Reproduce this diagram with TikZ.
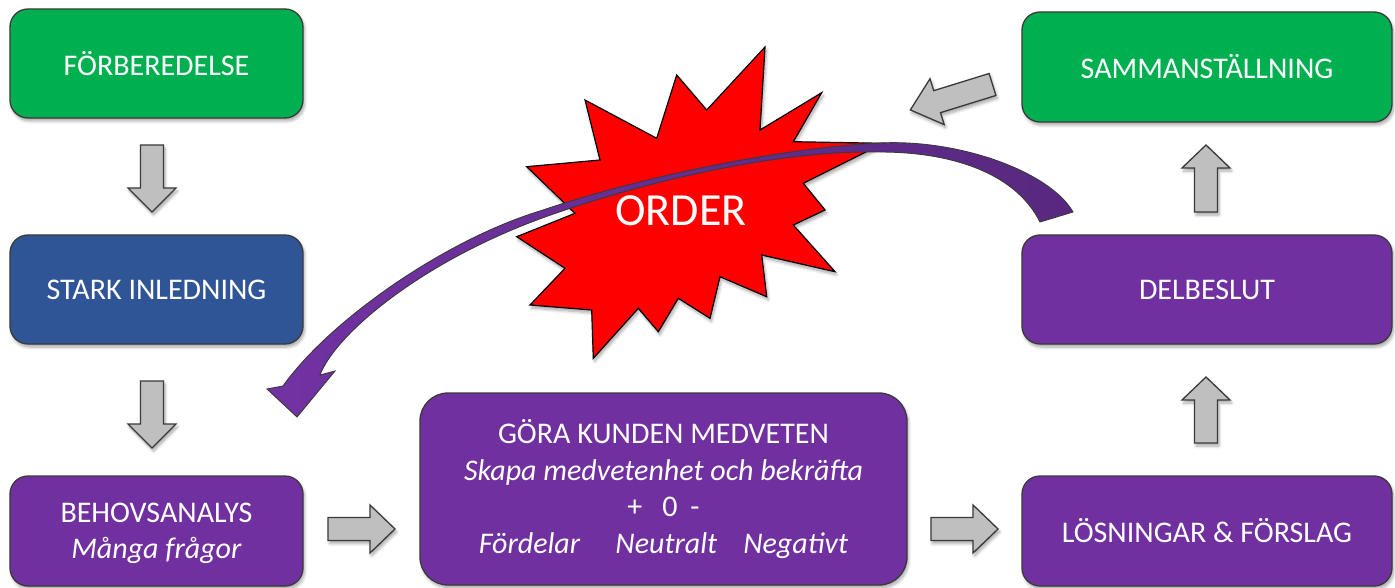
\documentclass[tikz,border=0pt]{standalone}
\usepackage{fontspec}
\setmainfont{Carlito}
\usetikzlibrary{shadows.blur}
\definecolor{boxgreen}{HTML}{00B050}
\definecolor{boxblue}{HTML}{2F5597}
\definecolor{boxpurple}{HTML}{7030A0}
\definecolor{ribbonlight}{HTML}{7232A3}
\definecolor{ribbondark}{HTML}{58287F}
\definecolor{edgegray}{HTML}{3A3A3A}
\definecolor{arrowgray}{HTML}{BFBFBF}
\definecolor{burstred}{HTML}{FF0000}
\begin{document}
\begin{tikzpicture}[x=1pt,y=-1pt,
  softshadow/.style={blur shadow={shadow xshift=1.5pt,shadow yshift=-3pt,
    shadow blur steps=6,shadow opacity=35,shadow blur radius=3pt}},
  box/.style={draw=edgegray,line width=1.3pt,rounded corners=18pt,text=white,
    align=center,font=\fontsize{30}{36.5}\selectfont,inner sep=0pt,softshadow},
  grayarrow/.style={fill=arrowgray,draw=edgegray,line width=1.3pt,
    line join=miter,softshadow},
  pics/blockarrow/.style 2 args={code={
    \draw[grayarrow] (0,-11.5) -- (#1,-11.5) -- (#1,-24) -- (#1+#2,0)
      -- (#1,24) -- (#1,11.5) -- (0,11.5) -- cycle;}}
]
\useasboundingbox (0,0) rectangle (1395,588);

% left column
\node[box,fill=boxgreen,minimum width=293pt,minimum height=109pt] (prep)
  at (156.5,63.5) {FÖRBEREDELSE};
\node[box,fill=boxblue,minimum width=293pt,minimum height=109pt] (stark)
  at (156.5,289.5) {STARK INLEDNING};
\node[box,fill=boxpurple,minimum width=293pt,minimum height=110pt,text depth=0pt] (behov)
  at (156.5,531) {BEHOVSANALYS\\\textit{Många frågor}};

% middle box
\node[box,fill=boxpurple,rounded corners=28pt,minimum width=487pt,minimum height=192pt] (gora)
  at (663.5,489) {GÖRA KUNDEN MEDVETEN\\
  \textit{Skapa medvetenhet och bekräfta}\\
  +\hspace{20pt}0\hspace{13pt}-\\
  \textit{Fördelar}\hspace{35pt}\textit{Neutralt}\hspace{26pt}\textit{Negativt}};

% right column
\node[box,fill=boxpurple,minimum width=370pt,minimum height=110pt] (losn)
  at (1207,531) {LÖSNINGAR \& FÖRSLAG};
\node[box,fill=boxpurple,minimum width=370pt,minimum height=109pt] (delb)
  at (1207,289.5) {DELBESLUT};
\node[box,fill=boxgreen,minimum width=370pt,minimum height=110pt] (samm)
  at (1207,67) {SAMMANSTÄLLNING};

% block arrows between the steps
\pic[rotate=-90] at (152,145) {blockarrow={43}{24}};
\pic[rotate=-90] at (152,381) {blockarrow={43}{24}};
\pic at (328,529) {blockarrow={42}{25}};
\pic at (931,529) {blockarrow={42}{25}};
\pic[rotate=90] at (1206,443) {blockarrow={43}{23}};
\pic[rotate=90] at (1206,212) {blockarrow={44}{23}};
\pic[rotate=197.2] at (992.5,84.5) {blockarrow={58}{28}};

% the burst
\filldraw[fill=burstred,draw=black,line width=1.2pt,line join=miter,softshadow]
  (765,47) -- (760,130) -- (821.7,92.7) -- (793.3,141.7) -- (883.3,143.3)
  -- (803.3,183.3) -- (825,210) -- (793.3,225) -- (835,271.7) -- (761.7,255)
  -- (766.7,296.7) -- (720,276.7) -- (710,318.3) -- (678.3,298.3)
  -- (658.3,331.7) -- (638.3,308.3) -- (593.3,358.3) -- (591.7,310)
  -- (530,305) -- (565,268.3) -- (516.7,236.7) -- (575,213.3)
  -- (526.7,166.7) -- (600,160) -- (585,100) -- (656.7,138.3)
  -- (676.7,75) -- (706.7,110) -- cycle;
\node[text=white,font=\fontsize{46}{50}\selectfont,inner sep=0pt] (order)
  at (681,211) {ORDER};

% curved arrow sweeping back from the decision to the opening
\path[left color=ribbonlight,right color=ribbondark,draw=edgegray,line width=0.9pt,line join=miter]
  (1073,212) .. controls (1050,172) and (960,139) .. (880,143)
  .. controls (780,148) and (640,177) .. (540,211)
  .. controls (445,240) and (330,320) .. (283,386)
  -- (267,389) -- (297,417) -- (335,371) -- (320,375)
  .. controls (335,335) and (420,262) .. (545,217)
  .. controls (645,181) and (780,150) .. (880,152)
  .. controls (950,152) and (1015,172) .. (1040,222)
  -- cycle;
\end{tikzpicture}
\end{document}
